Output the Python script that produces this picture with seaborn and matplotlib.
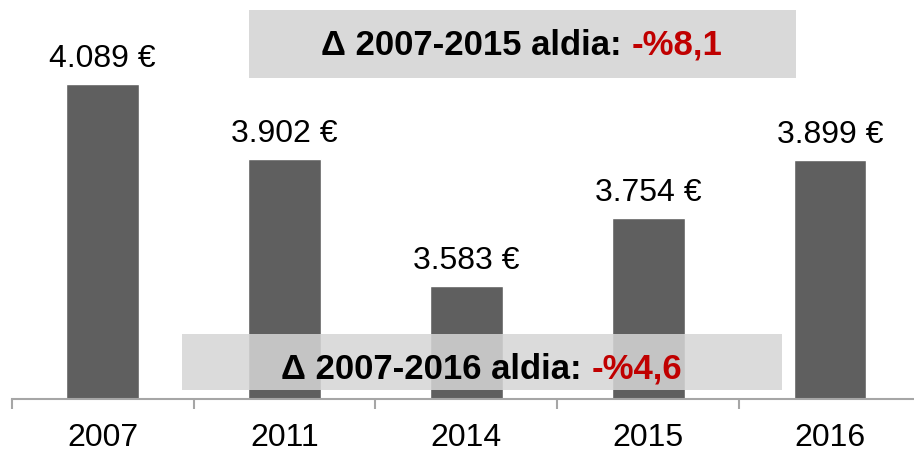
import numpy as np
import pandas as pd
import matplotlib
matplotlib.use("Agg")
import matplotlib.pyplot as plt
import seaborn as sns
from matplotlib.patches import Rectangle
from matplotlib.text import Annotation

# data
years = ["2007", "2011", "2014", "2015", "2016"]
amounts = [4089, 3902, 3583, 3754, 3899]
value_labels = ["4.089 €", "3.902 €", "3.583 €", "3.754 €", "3.899 €"]

box_top_text = "Δ 2007-2015 aldia:"
box_top_value = "-%8,1"
box_bottom_text = "Δ 2007-2016 aldia:"
box_bottom_value = "-%4,6"

df = pd.DataFrame({"year": years, "amount": amounts})

sns.set_style("white")
plt.rcParams["font.family"] = ["Liberation Sans", "DejaVu Sans"]
plt.rcParams["text.color"] = "#000000"
plt.rcParams["xtick.color"] = "#000000"

W, H = 914, 452
fig = plt.figure(figsize=(W / 100, H / 100), dpi=100)

# axes placed in pixel coordinates (right edge runs past the figure like the original)
ax_left, ax_right, ax_bottom, ax_top = 11.7, 921, 400, 0
ax = fig.add_axes([ax_left / W, (H - ax_bottom) / H,
                   (ax_right - ax_left) / W, (ax_bottom - ax_top) / H])

sns.barplot(data=df, x="year", y="amount", color="#5f5f5f", width=0.4,
            saturation=1, ax=ax)

ax.set_ylim(3300, 4302)
ax.set_xlim(-0.5, len(years) - 0.5)

# value labels above bars
for i, (v, lab) in enumerate(zip(amounts, value_labels)):
    ax.annotate(lab, xy=(i, v), xytext=(0, 8), textcoords="offset points",
                ha="center", va="bottom", fontsize=23, color="#000000")

# axis styling
for s in ["top", "right", "left"]:
    ax.spines[s].set_visible(False)
ax.spines["bottom"].set_color("#a6a6a6")
ax.spines["bottom"].set_linewidth(1.5)
ax.set_yticks([])
ax.set_xlabel("")
ax.set_ylabel("")
ax.set_xticks(range(len(years)))
ax.set_xticklabels(years, fontsize=23, color="#000000")
ax.tick_params(axis="x", which="major", length=0, pad=16.5)
ax.set_xticks(np.arange(-0.5, len(years), 1.0), minor=True)
ax.tick_params(axis="x", which="minor", bottom=True, length=7, width=1.5,
               color="#a6a6a6", direction="out")


def add_box(x0, x1, y0, y1, color, alpha):
    rect = Rectangle((x0 / W, (H - y1) / H), (x1 - x0) / W, (y1 - y0) / H,
                     transform=fig.transFigure, facecolor=color, alpha=alpha,
                     edgecolor="none", zorder=5)
    fig.add_artist(rect)


def add_two_color_text(x_start, y_base, black, red):
    t = fig.text(x_start / W, (H - y_base) / H, black, fontsize=25,
                 fontweight="bold", color="#000000", ha="left", va="baseline",
                 zorder=6)
    a = Annotation(red, xy=(1, 0), xycoords=t, xytext=(7, 0),
                   textcoords="offset points", fontsize=25,
                   fontweight="bold", color="#c00000", ha="left",
                   va="bottom", annotation_clip=False)
    a.set_zorder(6)
    fig.add_artist(a)
    return t, a


# top box (opaque) and bottom box (translucent over bars)
add_box(249, 796, 11, 79, "#d9d9d9", 1.0)
add_box(182, 782, 335, 391, "#d6d6d6", 0.86)

add_two_color_text(321, 55, box_top_text, box_top_value)
add_two_color_text(281, 379, box_bottom_text, box_bottom_value)

fig.savefig("out.png", dpi=100)
